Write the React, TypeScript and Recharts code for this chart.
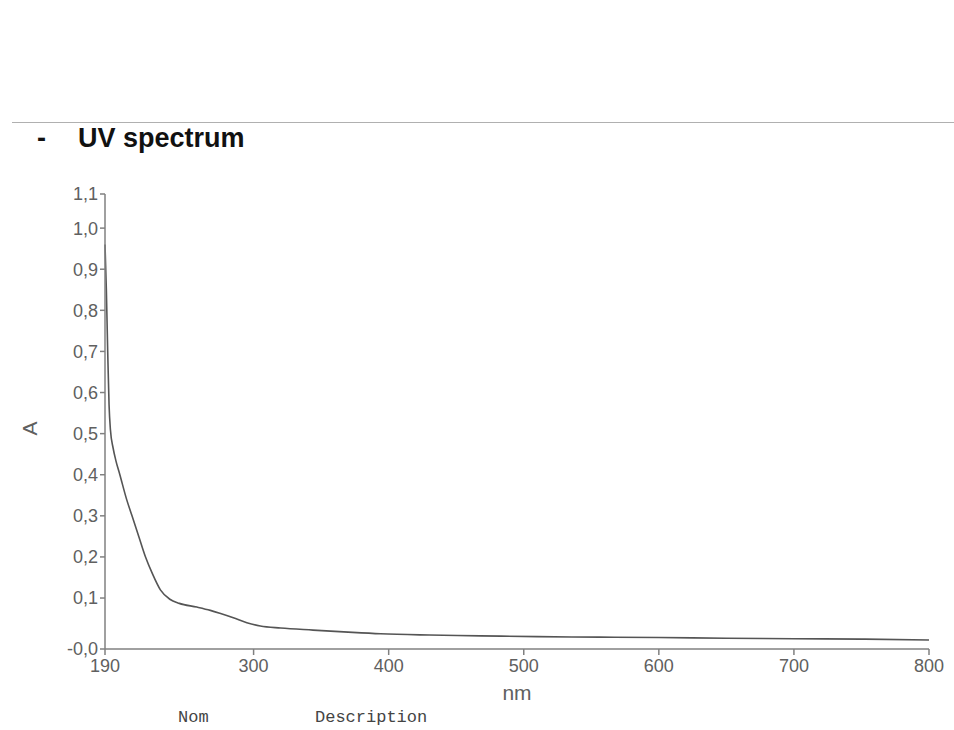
import { LineChart, Line, XAxis, YAxis } from "recharts";

// wavelength (nm) and absorbance
const wavelengths = [
  190, 191, 192, 193, 194, 196, 198, 201, 206, 210, 215, 220, 225, 231, 238, 245, 258, 268, 275,
  285, 295, 305, 320, 344, 370, 394, 430, 468, 510, 556, 600, 650, 700, 750, 800,
];
const absorbance = [
  0.96, 0.85, 0.7, 0.57, 0.51, 0.465, 0.435, 0.4, 0.34, 0.3, 0.25, 0.2, 0.16, 0.12, 0.097, 0.087,
  0.078, 0.07, 0.063, 0.052, 0.04, 0.032, 0.027, 0.022, 0.017, 0.013, 0.01, 0.008, 0.006, 0.005,
  0.004, 0.002, 0.001, 0.0, -0.002,
];

const xTicks = [190, 300, 400, 500, 600, 700, 800];
const yTicks = [-0.024, 0.1, 0.2, 0.3, 0.4, 0.5, 0.6, 0.7, 0.8, 0.9, 1.0, 1.083];
const yTickLabels = ["-0,0", "0,1", "0,2", "0,3", "0,4", "0,5", "0,6", "0,7", "0,8", "0,9", "1,0", "1,1"];

const data = wavelengths.map((nm, i) => ({ nm, a: absorbance[i] }));

const font = "'Liberation Sans', Arial, sans-serif";
const mono = "'Liberation Mono', 'DejaVu Sans Mono', monospace";
const tickStyle = { fill: "#606060", fontSize: 18, fontFamily: font };

export default function App() {
  return (
    <div style={{ position: "absolute", left: 0, top: 0, width: 954, height: 730, background: "#fff" }}>
      <div style={{ position: "absolute", left: 12, top: 122, width: 942, height: 1, background: "#b0b0b0" }} />
      <div
        style={{
          position: "absolute",
          left: 37,
          top: 123,
          fontFamily: font,
          fontWeight: "bold",
          fontSize: 27,
          color: "#111",
        }}
      >
        -
      </div>
      <div
        style={{
          position: "absolute",
          left: 78,
          top: 123,
          fontFamily: font,
          fontWeight: "bold",
          fontSize: 27,
          color: "#111",
        }}
      >
        UV spectrum
      </div>
      <div style={{ position: "absolute", left: 0, top: 0 }}>
        <LineChart width={954} height={730} data={data} margin={{ top: 194, right: 25, bottom: 51, left: 45 }}>
          <XAxis
            dataKey="nm"
            type="number"
            domain={[190, 800]}
            ticks={xTicks}
            interval={0}
            height={30}
            tick={tickStyle}
            tickSize={6}
            tickMargin={4}
            stroke="#808080"
            strokeWidth={1.5}
            label={{ value: "nm", position: "bottom", offset: 6, fill: "#606060", fontSize: 21, fontFamily: font }}
          />
          <YAxis
            type="number"
            domain={[-0.024, 1.083]}
            allowDataOverflow
            ticks={yTicks}
            interval={0}
            width={60}
            tick={tickStyle}
            tickSize={5}
            tickMargin={2}
            tickFormatter={(_v: number, i: number) => yTickLabels[i]}
            stroke="#808080"
            strokeWidth={1.5}
            label={{ value: "A", angle: -90, position: "left", offset: 15, fill: "#606060", fontSize: 21, fontFamily: font }}
          />
          <Line
            type="monotone"
            dataKey="a"
            stroke="#555"
            strokeWidth={1.6}
            dot={false}
            isAnimationActive={false}
          />
        </LineChart>
      </div>
      <div style={{ position: "absolute", left: 178, top: 708, fontFamily: mono, fontSize: 17, color: "#444" }}>
        Nom
      </div>
      <div style={{ position: "absolute", left: 315, top: 708, fontFamily: mono, fontSize: 17, color: "#444" }}>
        Description
      </div>
    </div>
  );
}
